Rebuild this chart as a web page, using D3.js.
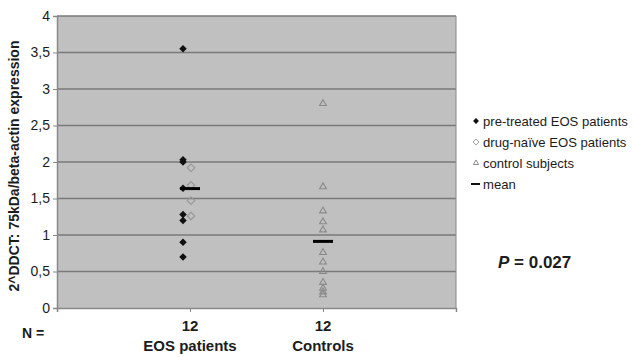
<!DOCTYPE html>
<html>
<head>
<meta charset="utf-8">
<script src="https://cdn.jsdelivr.net/npm/d3@7"></script>
<style>
  html, body { margin: 0; padding: 0; background: #fff; }
  svg { display: block; font-family: "Liberation Sans", Arial, sans-serif; }
</style>
</head>
<body>
<svg id="chart" width="633" height="357"></svg>
<script>
// Groups on the x axis
const groups = ["EOS patients", "Controls"];
const groupN = [12, 12];

// 2^DDCT values per subject
const preTreated = [3.55, 2.03, 2.0, 1.64, 1.28, 1.2, 0.9, 0.7];
const drugNaive = [1.92, 1.68, 1.47, 1.26];
const controls = [2.8, 1.66, 1.33, 1.18, 1.07, 0.76, 0.63, 0.5, 0.35, 0.27, 0.22, 0.18];

// Group means
const means = [d3.mean(preTreated.concat(drugNaive)), d3.mean(controls)];

const yTicks = [0, 0.5, 1, 1.5, 2, 2.5, 3, 3.5, 4];
const legendLabels = ["pre-treated EOS patients", "drug-naïve EOS patients", "control subjects", "mean"];

const svg = d3.select("#chart");
const plot = { left: 57, right: 456, top: 16, bottom: 308 };
const ink = "#1c1c1c";

const x = d3.scaleLinear().domain([0, 3]).range([plot.left, plot.right]);
const y = d3.scaleLinear().domain([0, 4]).range([plot.bottom, plot.top]);
const fmt = v => String(v).replace(".", ",");

// plot background
svg.append("rect")
  .attr("x", plot.left).attr("y", plot.top)
  .attr("width", plot.right - plot.left).attr("height", plot.bottom - plot.top)
  .attr("fill", "#c0c0c0");

// horizontal gridlines
svg.append("g").selectAll("line").data(yTicks.filter(t => t > 0))
  .join("line")
  .attr("x1", plot.left).attr("x2", plot.right)
  .attr("y1", d => y(d)).attr("y2", d => y(d))
  .attr("stroke", "#7a7a7a").attr("stroke-width", 1.5);

// right border
svg.append("line")
  .attr("x1", plot.right).attr("x2", plot.right)
  .attr("y1", plot.top).attr("y2", plot.bottom)
  .attr("stroke", "#8a8a8a").attr("stroke-width", 1);

// y axis
const yAxis = svg.append("g")
  .attr("transform", `translate(${plot.left},0)`)
  .call(d3.axisLeft(y).tickValues(yTicks).tickFormat(fmt).tickSize(4).tickPadding(3));
yAxis.select(".domain").attr("stroke", "#888").attr("stroke-width", 1.5);
yAxis.selectAll(".tick line").attr("stroke", "#888");
yAxis.selectAll("text").attr("font-size", 14).attr("fill", ink)
  .attr("font-family", "Liberation Sans, Arial, sans-serif");

// x axis with ticks at group positions and at the right edge
const xAxis = svg.append("g")
  .attr("transform", `translate(0,${plot.bottom})`)
  .call(d3.axisBottom(x).tickValues([1, 2, 3]).tickFormat("").tickSize(4));
xAxis.select(".domain").attr("stroke", "#888").attr("stroke-width", 1.5);
xAxis.selectAll(".tick line").attr("stroke", "#888");

// category labels
const catG = svg.append("g").attr("font-weight", "bold").attr("font-size", 15)
  .attr("fill", ink).attr("text-anchor", "middle");
groups.forEach((g, i) => {
  catG.append("text").attr("x", x(i + 1)).attr("y", 331).text(groupN[i]);
  catG.append("text").attr("x", x(i + 1)).attr("y", 351).text(g);
});
svg.append("text").attr("x", 22).attr("y", 338)
  .attr("font-weight", "bold").attr("font-size", 14).attr("fill", ink)
  .text("N =");

// y axis title
svg.append("text")
  .attr("transform", `translate(19,${(plot.top + plot.bottom) / 2 + 4}) rotate(-90)`)
  .attr("text-anchor", "middle")
  .attr("font-weight", "bold").attr("font-size", 14).attr("fill", ink)
  .text("2^DDCT: 75kDa/beta-actin expression");

// symbols
const diamond = d3.symbol().type(d3.symbolDiamond2).size(36);
const triangle = d3.symbol().type(d3.symbolTriangle).size(20);

const pts = svg.append("g");
pts.selectAll(".pre").data(preTreated).join("path")
  .attr("d", diamond)
  .attr("transform", d => `translate(${x(1) - 7},${y(d)})`)
  .attr("fill", "#111");
pts.selectAll(".naive").data(drugNaive).join("path")
  .attr("d", diamond)
  .attr("transform", d => `translate(${x(1) + 1},${y(d)})`)
  .attr("fill", "none").attr("stroke", "#999").attr("stroke-width", 1.2);
pts.selectAll(".ctrl").data(controls).join("path")
  .attr("d", triangle)
  .attr("transform", d => `translate(${x(2)},${y(d)})`)
  .attr("fill", "none").attr("stroke", "#8a8a8a").attr("stroke-width", 1.1);

// mean bars
svg.append("g").selectAll("line").data(means).join("line")
  .attr("x1", (d, i) => x(i + 1) - 10).attr("x2", (d, i) => x(i + 1) + 10)
  .attr("y1", d => y(d)).attr("y2", d => y(d))
  .attr("stroke", "#000").attr("stroke-width", 3);

// legend
const lg = svg.append("g").attr("font-size", 14).attr("fill", ink);
const ly = [121, 142, 163, 184];
const lx = 476;
lg.append("path").attr("d", d3.symbol().type(d3.symbolDiamond2).size(22))
  .attr("transform", `translate(${lx},${ly[0]})`).attr("fill", "#111");
lg.append("path").attr("d", d3.symbol().type(d3.symbolDiamond2).size(22))
  .attr("transform", `translate(${lx},${ly[1]})`)
  .attr("fill", "none").attr("stroke", "#999").attr("stroke-width", 1);
lg.append("path").attr("d", d3.symbol().type(d3.symbolTriangle).size(12))
  .attr("transform", `translate(${lx},${ly[2]})`)
  .attr("fill", "none").attr("stroke", "#8a8a8a").attr("stroke-width", 1);
lg.append("line").attr("x1", lx - 5).attr("x2", lx + 4)
  .attr("y1", ly[3]).attr("y2", ly[3]).attr("stroke", "#111").attr("stroke-width", 2);
const legendTexts = lg.selectAll("text.lbl").data(legendLabels).join("text")
  .attr("class", "lbl")
  .attr("x", 483).attr("y", (d, i) => ly[i]).attr("dy", "0.35em").text(d => d);
// fit the longest entry into the space right of the plot
const widest = d3.max(legendTexts.nodes(), n => n.getComputedTextLength());
const room = 145;
if (widest > room) lg.attr("font-size", 14 * room / widest);

// p value
const pv = svg.append("text").attr("x", 498).attr("y", 268)
  .attr("font-weight", "bold").attr("font-size", 17).attr("fill", ink);
pv.append("tspan").attr("font-style", "italic").text("P");
pv.append("tspan").text(" = 0.027");
</script>
</body>
</html>
